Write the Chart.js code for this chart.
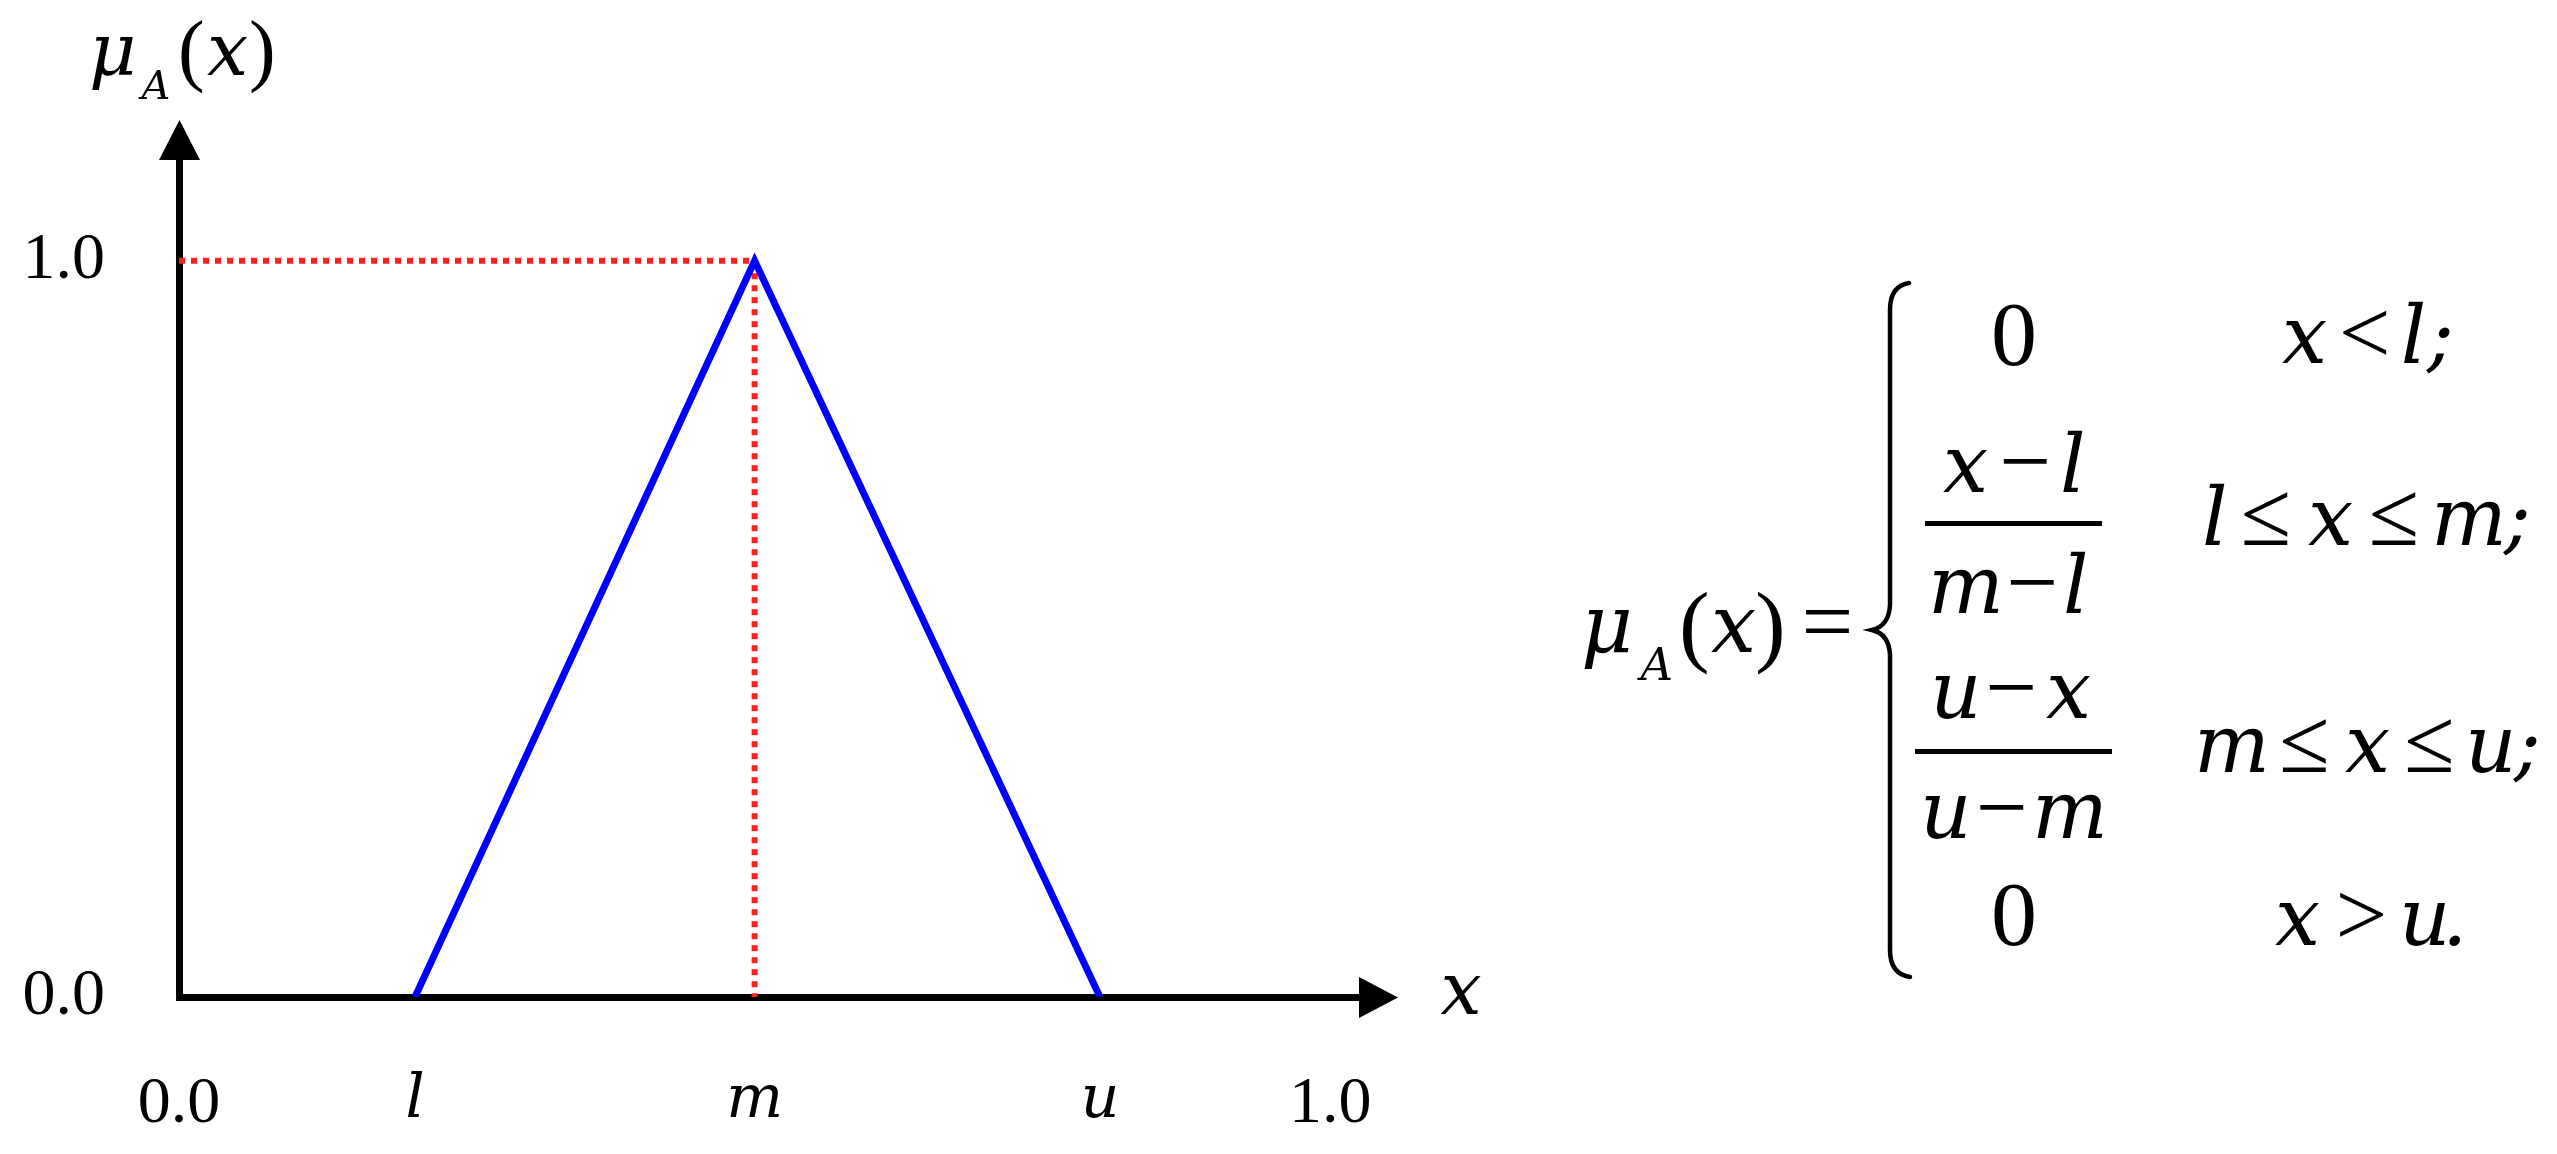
<!DOCTYPE html>
<html>
<head>
<meta charset="utf-8">
<script src="https://cdn.jsdelivr.net/npm/chart.js@4.4.1/dist/chart.umd.min.js"></script>
<style>
  html, body { margin: 0; padding: 0; background: #fff; }
  #wrap { width: 2557px; height: 1154px; }
</style>
</head>
<body>
<div id="wrap"><canvas id="fuzzyChart" width="2557" height="1154"></canvas></div>
<script>
// triangular fuzzy number (l, m, u)
const tfnX = [0.205, 0.5, 0.8];
const tfnY = [0, 1, 0];
// red dotted guides to the peak
const guideX = [0, 0.5, 0.5];
const guideY = [1, 1, 0];
// ticks
const xTickValues = [0, 0.205, 0.5, 0.8, 1];
const xTickLabels = ['0.0', 'l', 'm', 'u', '1.0'];
const yTickValues = [0, 1];
const yTickLabels = ['0.0', '1.0'];
const xMax = 1.025;
const yMax = 1.137;

const SERIF = "'Liberation Serif', 'Times New Roman', serif";
const ITALIC = "'DejaVu Serif', serif";
const IT_SCALE = 0.87; // DejaVu has a taller x-height than Times

function toPoints(xs, ys) {
    return xs.map((x, i) => ({ x: x, y: ys[i] }));
}

function fontOf(size, italic) {
    return italic ? 'italic ' + Math.round(size * IT_SCALE) + 'px ' + ITALIC : size + 'px ' + SERIF;
}

// measure the ink of a string by drawing it off screen
const inkCanvas = document.createElement('canvas');
inkCanvas.width = 500;
inkCanvas.height = 300;
const inkCtx = inkCanvas.getContext('2d', { willReadFrequently: true });
function inkOf(str, font) {
    inkCtx.clearRect(0, 0, 500, 300);
    inkCtx.font = font;
    inkCtx.fillStyle = '#000';
    inkCtx.textAlign = 'left';
    inkCtx.textBaseline = 'alphabetic';
    inkCtx.fillText(str, 150, 200);
    const d = inkCtx.getImageData(0, 0, 500, 300).data;
    let minX = 500, maxX = -1;
    for (let y = 0; y < 300; y++) {
        for (let x = 0; x < 500; x++) {
            if (d[(y * 500 + x) * 4 + 3] > 60) {
                if (x < minX) minX = x;
                if (x > maxX) maxX = x;
            }
        }
    }
    if (maxX < 0) return { l: 0, w: 0 };
    return { l: 150 - minX, w: maxX - minX + 1 };
}

// draw a row of tokens so that their ink spans [x0, x1]
// token = [text, italic, weight of the gap after it]
function drawSpread(ctx, tokens, x0, x1, baseline, size) {
    const m = tokens.map(t => inkOf(t[0], fontOf(size, t[1])));
    const inkTotal = m.reduce((s, d) => s + d.w, 0);
    const weights = tokens.slice(0, -1).map(t => (t[2] === undefined ? 1 : t[2]));
    const wSum = weights.reduce((s, w) => s + w, 0);
    const unit = wSum > 0 ? ((x1 - x0) - inkTotal) / wSum : 0;
    let x = tokens.length > 1 ? x0 : (x0 + x1) / 2 - inkTotal / 2;
    tokens.forEach((t, i) => {
        ctx.font = fontOf(size, t[1]);
        ctx.fillText(t[0], x + m[i].l, baseline);
        x += m[i].w + (i < weights.length ? weights[i] * unit : 0);
    });
}

const decor = {
    id: 'decor',
    afterDraw(chart) {
        const { ctx, chartArea: a } = chart;
        const ax = a.left + 0.5;
        const ay = a.bottom + 0.5;
        ctx.save();
        ctx.fillStyle = '#000';
        ctx.strokeStyle = '#000';

        // arrow heads
        ctx.beginPath();
        ctx.moveTo(ax - 20.5, a.top);
        ctx.lineTo(ax + 20.5, a.top);
        ctx.lineTo(ax, a.top - 40);
        ctx.closePath();
        ctx.fill();
        ctx.beginPath();
        ctx.moveTo(a.right, ay - 20.5);
        ctx.lineTo(a.right, ay + 20.5);
        ctx.lineTo(a.right + 39, ay);
        ctx.closePath();
        ctx.fill();

        // axis titles
        ctx.textAlign = 'left';
        ctx.textBaseline = 'alphabetic';
        drawSpread(ctx, [['μ', true]], ax - 92, ax - 42, 75, 84);
        drawSpread(ctx, [['A', true]], ax - 41, ax - 11, 99, 46);
        drawSpread(ctx, [['(', false]], ax + 3, ax + 21, 76, 80);
        drawSpread(ctx, [['x', true]], ax + 29, ax + 66, 75, 84);
        drawSpread(ctx, [[')', false]], ax + 73, ax + 91, 76, 80);
        drawSpread(ctx, [['x', true]], a.right + 84, a.right + 119, ay + 16, 84);

        // membership function formula
        const fs = 92;
        drawSpread(ctx, [['μ', true]], 1580, 1633, 652, fs);
        drawSpread(ctx, [['A', true]], 1637, 1670, 680, 52);
        drawSpread(ctx, [['(', false]], 1685, 1705, 655, fs);
        drawSpread(ctx, [['x', true]], 1713, 1753, 652, fs);
        drawSpread(ctx, [[')', false]], 1760, 1780, 655, fs);
        drawSpread(ctx, [['=', false]], 1805, 1850, 652, fs);

        // brace
        ctx.lineWidth = 4.5;
        ctx.lineCap = 'round';
        ctx.beginPath();
        ctx.moveTo(1909, 283);
        ctx.quadraticCurveTo(1890, 286, 1890, 310);
        ctx.lineTo(1890, 605);
        ctx.quadraticCurveTo(1889, 626, 1872, 630);
        ctx.quadraticCurveTo(1889, 634, 1890, 655);
        ctx.lineTo(1890, 950);
        ctx.quadraticCurveTo(1890, 974, 1910, 977);
        ctx.stroke();

        // cases: values
        drawSpread(ctx, [['0', false]], 1995, 2033, 365, fs);
        drawSpread(ctx, [['x', true], ['−', false], ['l', true]], 1943, 2082, 492, fs);
        drawSpread(ctx, [['m', true], ['−', false], ['l', true]], 1933, 2085, 613, fs);
        drawSpread(ctx, [['u', true], ['−', false], ['x', true]], 1935, 2090, 718, fs);
        drawSpread(ctx, [['u', true], ['−', false], ['m', true]], 1925, 2102, 838, fs);
        drawSpread(ctx, [['0', false]], 1995, 2033, 945, fs);
        ctx.fillRect(1925, 521, 177, 5);
        ctx.fillRect(1915, 749, 197, 5);

        // cases: conditions
        drawSpread(ctx, [['x', true], ['<', false], ['l', true, 0.2], [';', true]], 2282, 2450, 363, fs);
        drawSpread(ctx, [['l', true], ['≤', false], ['x', true], ['≤', false], ['m', true, 0.1], [';', true]], 2205, 2527, 545, fs);
        drawSpread(ctx, [['m', true], ['≤', false], ['x', true], ['≤', false], ['u', true, 0.1], [';', true]], 2199, 2537, 772, fs);
        drawSpread(ctx, [['x', true], ['>', false], ['u', true, 0.2], ['.', true]], 2275, 2460, 945, fs);

        ctx.restore();
    }
};

const data = {
    datasets: [{
        label: 'μA(x)',
        data: toPoints(tfnX, tfnY),
        borderColor: '#0000ff',
        borderWidth: 7,
        borderJoinStyle: 'miter',
        pointRadius: 0,
        fill: false,
        tension: 0
    }, {
        label: 'guide',
        data: toPoints(guideX, guideY),
        borderColor: 'rgb(255, 32, 32)',
        borderWidth: 6,
        borderDash: [6, 6],
        borderCapStyle: 'butt',
        pointRadius: 0,
        fill: false,
        tension: 0
    }]
};

const config = {
    type: 'line',
    data: data,
    options: {
        responsive: false,
        animation: false,
        devicePixelRatio: 1,
        layout: { padding: { top: 160, right: 1198, bottom: 0, left: 0 } },
        plugins: { legend: { display: false }, tooltip: { enabled: false } },
        scales: {
            x: {
                type: 'linear',
                min: 0,
                max: xMax,
                grid: { display: false, drawTicks: false },
                border: { display: true, color: '#000', width: 7 },
                afterBuildTicks: (scale) => { scale.ticks = xTickValues.map(v => ({ value: v })); },
                afterFit: (scale) => { scale.height = 157; },
                ticks: {
                    autoSkip: false,
                    maxRotation: 0,
                    minRotation: 0,
                    padding: 68,
                    color: '#000',
                    font: (c) => {
                        const italic = c.index > 0 && c.index < xTickLabels.length - 1;
                        return italic
                            ? { family: ITALIC, size: 60, style: 'italic' }
                            : { family: SERIF, size: 66, style: 'normal' };
                    },
                    callback: (value, index) => xTickLabels[index]
                }
            },
            y: {
                type: 'linear',
                min: 0,
                max: yMax,
                grid: { display: false, drawTicks: false },
                border: { display: true, color: '#000', width: 7 },
                afterBuildTicks: (scale) => { scale.ticks = yTickValues.map(v => ({ value: v })); },
                afterFit: (scale) => { scale.width = 179; },
                ticks: {
                    padding: 74,
                    color: '#000',
                    font: { family: SERIF, size: 66 },
                    callback: (value, index) => yTickLabels[index]
                }
            }
        }
    },
    plugins: [decor]
};

new Chart(document.getElementById('fuzzyChart'), config);
</script>
</body>
</html>
